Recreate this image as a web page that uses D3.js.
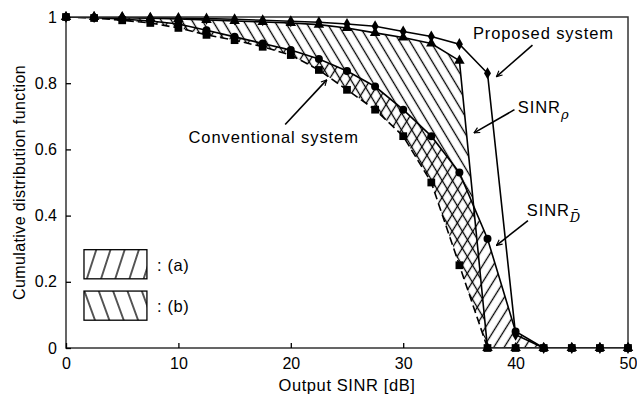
<!DOCTYPE html>
<html>
<head>
<meta charset="utf-8">
<script src="https://cdnjs.cloudflare.com/ajax/libs/d3/7.8.5/d3.min.js"></script>
<style>
  body { margin: 0; background: #fff; }
  text { font-family: "Liberation Sans", Arial, sans-serif; fill: #000; }
</style>
</head>
<body>
<div id="chart"></div>
<script>
// output SINR [dB] sample points
var sinrDB = [0, 2.5, 5, 7.5, 10, 12.5, 15, 17.5, 20, 22.5, 25, 27.5, 30, 32.5, 35, 37.5, 40, 42.5, 45, 47.5, 50];
// CDF values
var proposed = [1, 1, 1, 0.998, 0.997, 0.995, 0.993, 0.99, 0.987, 0.984, 0.979, 0.972, 0.956, 0.941, 0.918, 0.83, 0.04, 0, 0, 0, 0];
var sinrRho = [1, 1, 0.998, 0.996, 0.994, 0.991, 0.988, 0.985, 0.982, 0.977, 0.967, 0.952, 0.938, 0.92, 0.868, 0, 0, 0, 0, 0, 0];
var sinrDbar = [1, 0.998, 0.994, 0.988, 0.979, 0.96, 0.94, 0.92, 0.9, 0.873, 0.837, 0.79, 0.72, 0.64, 0.53, 0.33, 0.05, 0, 0, 0, 0];
var conventional = [1, 0.997, 0.99, 0.982, 0.967, 0.946, 0.93, 0.91, 0.885, 0.84, 0.78, 0.72, 0.64, 0.5, 0.25, 0, 0, 0, 0, 0, 0];

var xTicks = [0, 10, 20, 30, 40, 50];
var yTicks = [0, 0.2, 0.4, 0.6, 0.8, 1];
var yTickLabels = ["0", "0.2", "0.4", "0.6", "0.8", "1"];

var width = 637, height = 403;
var margin = {top: 17, right: 9, bottom: 55, left: 66};

var svg = d3.select("#chart").append("svg")
    .attr("width", width)
    .attr("height", height);

svg.append("rect").attr("width", width).attr("height", height).attr("fill", "#fff");

var x = d3.scaleLinear().domain([0, 50]).range([margin.left, width - margin.right]);
var y = d3.scaleLinear().domain([0, 1]).range([height - margin.bottom, margin.top]);

// hatch patterns
var defs = svg.append("defs");
function hatch(id, spacing, angle, sw) {
    var p = defs.append("pattern")
        .attr("id", id)
        .attr("patternUnits", "userSpaceOnUse")
        .attr("width", spacing)
        .attr("height", 20)
        .attr("patternTransform", "rotate(" + angle + ")");
    p.append("line")
        .attr("x1", spacing / 2).attr("x2", spacing / 2)
        .attr("y1", -1).attr("y2", 21)
        .attr("stroke", "#000").attr("stroke-width", sw);
}
hatch("hatchA", 8.8, 32, 1.3);
hatch("hatchB", 8.8, -31, 1.3);
hatch("legA", 13.5, 18, 1.3);
hatch("legB", 13.5, -20, 1.3);

defs.append("clipPath").attr("id", "plotClip")
  .append("rect")
    .attr("x", margin.left).attr("y", margin.top)
    .attr("width", width - margin.left - margin.right)
    .attr("height", height - margin.top - margin.bottom);

defs.append("marker")
    .attr("id", "arrow")
    .attr("viewBox", "0 0 10 10")
    .attr("refX", 9).attr("refY", 5)
    .attr("markerWidth", 7).attr("markerHeight", 7)
    .attr("markerUnits", "userSpaceOnUse")
    .attr("orient", "auto")
  .append("path")
    .attr("d", "M1,1 L9,5 L1,9")
    .attr("fill", "none")
    .attr("stroke", "#000")
    .attr("stroke-width", 1.6);

var plot = svg.append("g").attr("clip-path", "url(#plotClip)");

// (b): between SINR_rho and conventional, (a): between SINR_Dbar and conventional
var idx = d3.range(sinrDB.length);
var areaB = d3.area()
    .x(function(i) { return x(sinrDB[i]); })
    .y0(function(i) { return y(conventional[i]); })
    .y1(function(i) { return y(sinrRho[i]); });
var areaA = d3.area()
    .x(function(i) { return x(sinrDB[i]); })
    .y0(function(i) { return y(conventional[i]); })
    .y1(function(i) { return y(sinrDbar[i]); });

plot.append("path").attr("d", areaB(idx.slice(0, 16))).attr("fill", "url(#hatchB)");
plot.append("path").attr("d", areaA(idx.slice(0, 18))).attr("fill", "url(#hatchA)");

// frame and ticks
var x0 = margin.left, x1 = width - margin.right, y0 = height - margin.bottom, y1 = margin.top;
svg.append("rect")
    .attr("x", x0).attr("y", y1)
    .attr("width", x1 - x0).attr("height", y0 - y1)
    .attr("fill", "none").attr("stroke", "#333").attr("stroke-width", 1.5);

var xAxis = d3.axisBottom(x).tickValues(xTicks).tickSize(-5).tickPadding(10).tickFormat(d3.format("d"));
var gx = svg.append("g").attr("transform", "translate(0," + y0 + ")").call(xAxis);
gx.select(".domain").remove();
gx.selectAll(".tick line").attr("stroke", "#000").attr("stroke-width", 1.3);
gx.selectAll(".tick text").attr("font-size", 16).attr("font-family", "Liberation Sans, Arial, sans-serif");

var yAxis = d3.axisLeft(y).tickValues(yTicks).tickSize(-5).tickPadding(9)
    .tickFormat(function(d, i) { return yTickLabels[i]; });
var gy = svg.append("g").attr("transform", "translate(" + x0 + ",0)").call(yAxis);
gy.select(".domain").remove();
gy.selectAll(".tick line").attr("stroke", "#000").attr("stroke-width", 1.3);
gy.selectAll(".tick text").attr("font-size", 16).attr("font-family", "Liberation Sans, Arial, sans-serif");

// lines
var line = function(vals) {
    return d3.line()
        .x(function(i) { return x(sinrDB[i]); })
        .y(function(i) { return y(vals[i]); })(idx);
};
var series = [
    {vals: proposed, symbol: d3.symbolDiamond, size: 42, dash: null},
    {vals: sinrRho, symbol: d3.symbolTriangle, size: 48, dash: null},
    {vals: sinrDbar, symbol: d3.symbolCircle, size: 50, dash: null},
    {vals: conventional, symbol: d3.symbolSquare, size: 60, dash: "8,4"}
];

series.forEach(function(s) {
    plot.append("path")
        .attr("d", line(s.vals))
        .attr("fill", "none")
        .attr("stroke", "#000")
        .attr("stroke-width", 1.6)
        .attr("stroke-dasharray", s.dash);
});
series.forEach(function(s) {
    svg.append("g").selectAll("path")
        .data(idx)
        .enter()
        .append("path")
        .attr("d", d3.symbol().type(s.symbol).size(s.size))
        .attr("transform", function(i) { return "translate(" + x(sinrDB[i]) + "," + y(s.vals[i]) + ")"; })
        .attr("fill", "#000");
});

// annotations
var notes = [
    {text: "Proposed system", tx: 36.2, ty: 0.935, ax: [41.5, 0.915], ah: [38.3, 0.82]},
    {text: "SINR", sub: "ρ", tx: 40.2, ty: 0.71, ax: [39.9, 0.72], ah: [36.3, 0.65]},
    {text: "SINR", sub: "D\u0304", tx: 41.0, ty: 0.40, ax: [41.1, 0.385], ah: [38.3, 0.31]},
    {text: "Conventional system", tx: 10.9, ty: 0.62, ax: [19.5, 0.675], ah: [23.2, 0.81]}
];
notes.forEach(function(n) {
    var t = svg.append("text")
        .attr("x", x(n.tx)).attr("y", y(n.ty))
        .attr("font-size", 16.5)
        .attr("letter-spacing", 0.9)
        .text(n.text);
    if (n.sub) {
        t.append("tspan")
            .attr("font-style", "italic")
            .attr("font-family", "DejaVu Serif, serif")
            .attr("font-size", 13)
            .attr("dy", 6)
            .attr("letter-spacing", 0)
            .text(n.sub);
    }
    svg.append("line")
        .attr("x1", x(n.ax[0])).attr("y1", y(n.ax[1]))
        .attr("x2", x(n.ah[0])).attr("y2", y(n.ah[1]))
        .attr("stroke", "#000").attr("stroke-width", 1.6)
        .attr("marker-end", "url(#arrow)");
});

// legend boxes
var legend = [{key: "legA", label: ": (a)", v: 0.297}, {key: "legB", label: ": (b)", v: 0.172}];
legend.forEach(function(l) {
    svg.append("rect")
        .attr("x", x(1.6)).attr("y", y(l.v))
        .attr("width", x(7.2) - x(1.6)).attr("height", y(0) - y(0.088))
        .attr("fill", "url(#" + l.key + ")")
        .attr("stroke", "#000").attr("stroke-width", 1.3);
    svg.append("text")
        .attr("x", x(8.1)).attr("y", y(l.v) + 21)
        .attr("font-size", 16.5)
        .attr("letter-spacing", 0.6)
        .text(l.label);
});

// axis titles
svg.append("text")
    .attr("x", (x0 + x1) / 2).attr("y", 391)
    .attr("text-anchor", "middle")
    .attr("font-size", 16.5)
    .attr("letter-spacing", 0.6)
    .text("Output SINR [dB]");
svg.append("text")
    .attr("transform", "translate(25," + ((y0 + y1) / 2) + ") rotate(-90)")
    .attr("text-anchor", "middle")
    .attr("font-size", 16)
    .attr("letter-spacing", 0.4)
    .text("Cumulative distribution function");
</script>
</body>
</html>
